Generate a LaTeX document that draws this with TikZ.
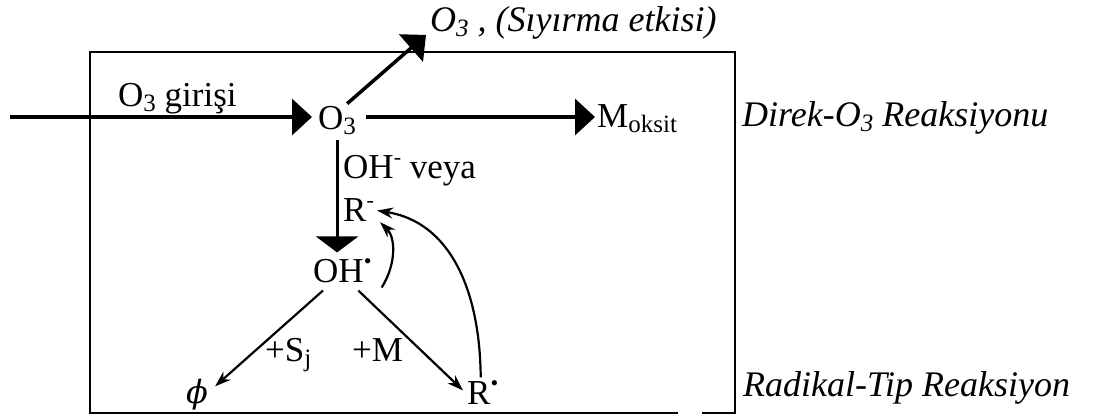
\documentclass[tikz,border=0pt]{standalone}
\usepackage{fontspec}
\setmainfont{Liberation Serif}
\newfontfamily\phifont{DejaVu Serif}
\usetikzlibrary{arrows.meta}
\newcommand\sbs[1]{\raisebox{-0.28ex}{\fontsize{25}{25}\selectfont #1}}
\newcommand\sps[1]{\raisebox{0.9ex}{\fontsize{22}{22}\selectfont #1}}
\begin{document}
\begin{tikzpicture}[x=1pt,y=-1pt,
  txt/.style={inner sep=0pt, font=\fontsize{35}{40}\selectfont},
  itxt/.style={inner sep=0pt, font=\fontsize{36}{40}\selectfont\itshape},
  big/.style={line width=3.5pt, -{Triangle[length=20pt,width=36pt]}},
  bigv/.style={line width=3pt, -{Triangle[length=16pt,width=42pt]}},
  thinarr/.style={line width=2.2pt, -{Stealth[length=16pt,width=11pt]}},
  boxline/.style={line width=2.2pt}
]
\useasboundingbox (0,0) rectangle (1093,419);
% box
\draw[boxline] (678,413) -| (90,52) -| (735,413) -- (702,413);
% texts
\node[txt, anchor=base west] (girisi) at (118,107) {O\sbs{3} giri\c{s}i};
\node[txt, anchor=base west] (o3) at (318,130) {O\sbs{3}};
\node[itxt, anchor=base west] (sy) at (430,32) {O\sbs{3} , (S\i y\i rma etkisi)};
\node[txt, anchor=base west] (mox) at (597,128) {M\sbs{oksit}};
\node[itxt, anchor=base west] (direk) at (742,127) {Direk-O\sbs{3} Reaksiyonu};
\node[txt, anchor=base west] (ohv) at (343,179) {OH\sps{-} veya};
\node[txt, anchor=base west] (rm) at (343,222) {R\sps{-}};
\node[txt, anchor=base west] (oh) at (313,283) {OH\sps{•}};
\node[txt, font=\fontsize{32}{36}\selectfont\phifont\itshape] (phi) at (197,395) {ϕ};
\node[txt, anchor=base west] (sj) at (265,362) {+S\sbs{j}};
\node[txt, anchor=base west] (m) at (352,362) {+M};
\node[txt, anchor=base west] (rb) at (467,405) {R\sps{•}};
\node[itxt, anchor=base west] (radikal) at (743,397) {Radikal-Tip Reaksiyon};
% arrows
\coordinate (in) at (10,117);
\draw[big, shorten >=6pt] (in) -- (in -| o3.west);
\draw[big, shorten <=10pt, shorten >=2pt] (in -| o3.east) -- (in -| mox.west);
\draw[big] ([shift={(-9,-3)}]o3.north east) -- ([shift={(-4,-5)}]sy.south west);
\draw[bigv, shorten <=5pt, shorten >=6pt] (o3.south) -- (o3.south |- oh.north);
\draw[thinarr] ([shift={(10,7)}]oh.south west) -- ([shift={(7,7)}]phi.north east);
\draw[thinarr] ([shift={(16,7)}]oh.south) -- ([shift={(-4,10)}]rb.north west);
\draw[thinarr] ([shift={(-2,-3)}]rb.north) .. controls (480,290) and (450,222) .. ([xshift=3]rm.east);
\draw[thinarr] ([shift={(10,4)}]oh.south east) .. controls (396,265) and (396,238) .. ([xshift=6]rm.south east);
\end{tikzpicture}
\end{document}
